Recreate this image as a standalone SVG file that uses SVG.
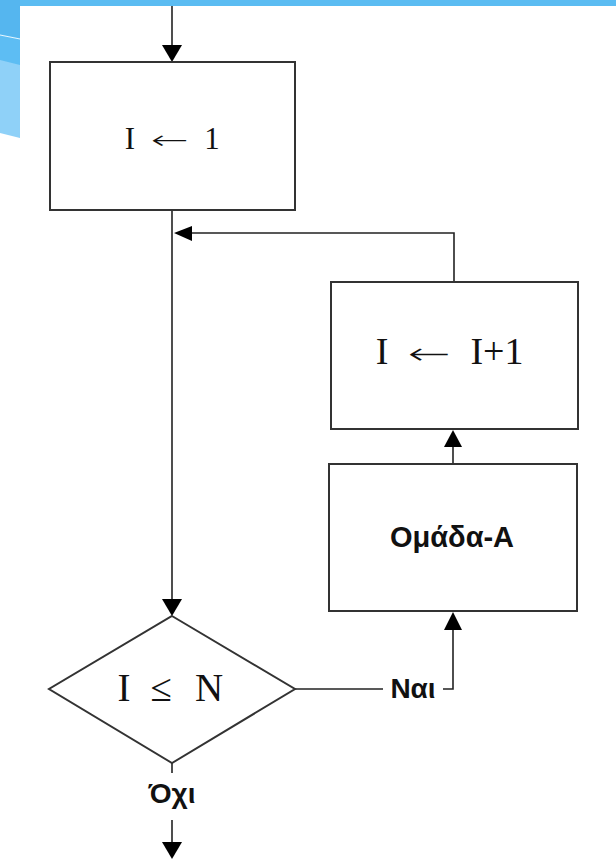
<svg xmlns="http://www.w3.org/2000/svg" width="616" height="859" viewBox="0 0 616 859">
<style>
.box{fill:#fff;stroke:#333;stroke-width:2}
.ln{fill:none;stroke:#222;stroke-width:1.6}
.serif{font-family:"Liberation Serif","Times New Roman",serif;fill:#111}
.arr{font-family:"DejaVu Sans",sans-serif;font-weight:200;fill:#111}
.sans{font-family:"Liberation Sans",Arial,sans-serif;font-weight:bold;fill:#111}
.ah{fill:#000}
</style>
<g id="background">
<rect x="0" y="0" width="616" height="859" fill="#fff"/>
<rect x="0" y="0" width="616" height="6" fill="#5bbcf2"/>
<polygon points="0,0 20,0 20,138 0,133" fill="#8fd1f8"/>
<polygon points="0,0 20,0 20,65 0,60" fill="#5dbdf3"/>
<polygon points="0,0 20,0 20,38 0,34" fill="#55b6ef"/>
<line x1="0" y1="35" x2="20" y2="39" stroke="#e8f6fe" stroke-width="1"/>
</g>
<g id="connectors">
<line class="ln" x1="172" y1="6" x2="172" y2="46" stroke="#666"/>
<polygon class="ah" points="162,45 182,45 172,62"/>
<line class="ln" x1="172" y1="210" x2="172" y2="600"/>
<polygon class="ah" points="162,599 182,599 172,616"/>
<polyline class="ln" points="454,282 454,233 190,233"/>
<polygon class="ah" points="192,226 192,241 174,233"/>
<line class="ln" x1="453" y1="464" x2="453" y2="447"/>
<polygon class="ah" points="444,447 462,447 453,430"/>
<line class="ln" x1="295" y1="689" x2="383" y2="689"/>
<polyline class="ln" points="443,689 453,689 453,629"/>
<polygon class="ah" points="444,630 462,630 453,612"/>
<line class="ln" x1="172" y1="763" x2="172" y2="773"/>
<line class="ln" x1="172" y1="820" x2="172" y2="843"/>
<polygon class="ah" points="162,842 182,842 172,859"/>
</g>
<g id="node-init">
<rect class="box" x="50" y="62" width="245" height="148"/>
<text class="serif" font-size="31" x="130" y="149" text-anchor="middle">I</text>
<text class="arr" font-size="26" x="151" y="149" textLength="38" lengthAdjust="spacingAndGlyphs">←</text>
<text class="serif" font-size="31" x="212" y="149" text-anchor="middle">1</text>
</g>
<g id="node-increment">
<rect class="box" x="331" y="282" width="247" height="147"/>
<text class="serif" font-size="38" x="382" y="364" text-anchor="middle">I</text>
<text class="arr" font-size="30" x="408" y="364" textLength="43" lengthAdjust="spacingAndGlyphs">←</text>
<text class="serif" font-size="38" x="497" y="364" text-anchor="middle">I+1</text>
</g>
<g id="node-groupA">
<rect class="box" x="329" y="464" width="248" height="147"/>
<text class="sans" font-size="29" x="452" y="547" text-anchor="middle">Ομάδα-Α</text>
</g>
<g id="node-decision">
<polygon class="box" points="172,616 295,689 172,763 49,689"/>
<text class="serif" font-size="39" x="124" y="701" text-anchor="middle">I</text>
<text class="serif" font-size="39" x="161" y="701" text-anchor="middle">≤</text>
<text class="serif" font-size="39" x="209" y="701" text-anchor="middle">N</text>
</g>
<g id="labels">
<text class="sans" font-size="28" x="413" y="698" text-anchor="middle">Ναι</text>
<text class="sans" font-size="28" x="172" y="803" text-anchor="middle">Όχι</text>
</g>
</svg>
